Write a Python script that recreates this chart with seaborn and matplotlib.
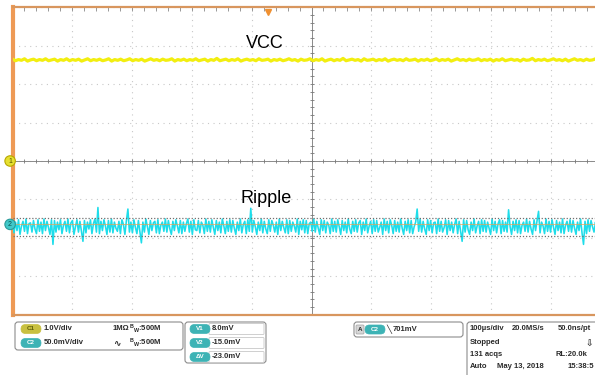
import numpy as np
import pandas as pd
import matplotlib
matplotlib.use("Agg")
import matplotlib.pyplot as plt
import seaborn as sns
from matplotlib.patches import FancyBboxPatch
from matplotlib.transforms import IdentityTransform

# --- scope settings ---
CH1_SCALE = 1.0      # V/div
CH2_SCALE = 50.0     # mV/div
CH1_OFFSET = 0.0     # div
CH2_OFFSET = -1.65   # div
TIME_SPAN_US = 1000  # 10 div x 100 us/div
TRIGGER_POS_US = 427
CURSOR_V1 = 8.0      # mV
CURSOR_V2 = -15.0    # mV

# CH1: VCC (V)
vcc = [2.65, 2.61, 2.64, 2.62, 2.66, 2.60, 2.63, 2.65, 2.61, 2.64, 2.62, 2.66, 2.61, 2.63, 2.65, 2.60, 2.64, 2.62, 2.66, 2.61,
       2.64, 2.62, 2.65, 2.60, 2.63, 2.66, 2.61, 2.64, 2.62, 2.65, 2.61, 2.63, 2.66, 2.60, 2.64, 2.62, 2.65, 2.61, 2.63, 2.66,
       2.61, 2.64, 2.62, 2.65, 2.60, 2.63, 2.66, 2.62, 2.64, 2.61, 2.65, 2.62, 2.63, 2.66, 2.60, 2.64, 2.62, 2.65, 2.61, 2.64,
       2.62, 2.66, 2.61, 2.63, 2.65, 2.60, 2.64, 2.62, 2.67, 2.61, 2.63, 2.65, 2.61, 2.64, 2.62, 2.66, 2.60, 2.63, 2.65, 2.62,
       2.64, 2.61, 2.66, 2.62, 2.63, 2.65, 2.60, 2.64, 2.62, 2.65, 2.61, 2.63, 2.66, 2.62, 2.64, 2.60, 2.65, 2.62, 2.63, 2.66,
       2.61, 2.64, 2.62, 2.66, 2.60, 2.63, 2.65, 2.61, 2.64, 2.62, 2.67, 2.61, 2.63, 2.65, 2.62, 2.64, 2.60, 2.66, 2.62, 2.63,
       2.65, 2.61, 2.64, 2.62, 2.66, 2.60, 2.63, 2.65, 2.62, 2.64, 2.61, 2.66, 2.62, 2.63, 2.65, 2.60, 2.64, 2.62, 2.65, 2.61,
       2.63, 2.66, 2.61, 2.64, 2.62, 2.65, 2.60, 2.63, 2.66, 2.62, 2.64, 2.61, 2.65, 2.62, 2.63, 2.66, 2.61, 2.64, 2.62, 2.65,
       2.60, 2.64, 2.62, 2.66, 2.61, 2.63, 2.65, 2.62, 2.64, 2.60, 2.65, 2.62, 2.63, 2.67, 2.61, 2.64, 2.62, 2.65, 2.61, 2.63,
       2.66, 2.62, 2.64, 2.61, 2.65, 2.60, 2.63, 2.66, 2.62, 2.64, 2.61, 2.65, 2.62, 2.63, 2.66, 2.60, 2.64, 2.62, 2.65, 2.63]

# CH2: ripple (mV)
ripple = [5, -11, 3, -8, 6, -13, -2, 4, -9, 7, -12, 1, 2, -10, 5, -6, -12, 6, -9, 3,
          -12, 7, -8, 4, -4, -13, 6, -26, 5, -10, 3, -7, 6, -12, -1, 4, -9, 7, -11, 2,
          5, -13, -3, 6, -10, 4, -9, -22, 5, -11, 3, -6, 6, -12, 1, 7, -10, 22, -12, 4,
          -8, 6, -2, -13, 5, -10, 7, -11, 3, -5, -9, 4, -12, 6, 0, -13, 5, 20, -10, 3,
          -11, 6, -4, -12, 5, -9, -24, 3, -10, 7, -3, -13, 5, -8, 2, 4, -11, 6, -12, -1,
          3, -9, 7, -10, 5, -6, -13, 4, -8, 6, -2, -11, 5, -12, 3, -9, 1, 7, -10, 4,
          -13, 6, -7, -8, 5, -11, 3, -1, -12, 7, -9, 4, -10, 6, -4, -13, 5, -8, 3, -11,
          7, -2, -12, 4, -9, 6, -10, 5, -5, -13, 3, -8, 7, -11, 0, 4, -12, 6, -9, 21,
          -10, 5, -3, -13, 3, -8, 7, -11, 4, -6, -12, 6, -9, 5, -1, -10, 3, -13, 7, -8,
          4, -4, -11, 6, -12, 5, -9, 3, -2, -10, 7, -13, 4, -7, 6, -11, 5, -12, 1, 3,
          -9, 7, -10, 4, -5, -13, 6, -8, 5, -11, 3, -1, -12, 7, -9, 4, -10, 6, -3, -13,
          5, -8, 3, -11, 7, -6, -12, 4, -9, 6, -10, 2, 5, -13, 3, -8, 7, -11, -2, 4,
          -12, 6, -9, 5, -10, -4, 3, -13, 7, -8, 4, -11, 6, -1, -12, 5, -9, 3, -10, 7,
          -5, -13, 4, -8, 6, -11, 5, -12, -3, 3, 20, -9, 7, -10, 4, -6, -13, 6, -8, 5,
          -11, 2, 3, -12, 7, -9, 4, -10, -4, 6, -13, 5, -8, 3, -11, 0, 7, -12, 4, -9,
          -22, 6, -10, 5, -7, -13, 3, -8, 7, -11, -2, 4, -12, 6, -9, 5, -10, 3, -5, -13,
          7, -8, 4, -11, 1, 6, -12, 5, -9, 3, -10, 19, -3, -13, 4, -8, 6, -11, 5, -12,
          -1, 3, -9, 7, -10, 4, -6, -13, 6, -8, 5, 17, -11, 3, -2, -12, 7, -9, 4, -10,
          6, -4, -13, 5, -8, 3, -11, 7, -12, -1, 4, -9, 6, -10, 5, -5, -13, 3, -8, 7,
          -11, -26, 4, -12, 6, -9, 5, -3, -10, 3, -13, 7, -8, 4, -6, -11, 6, -12, 5, -9]

W, H = 595, 375
YELLOW = "#F2EE10"
CYAN = "#1EDDEA"
ORANGE = "#EE9A55"
TEAL = "#3DB3B5"


def main():
    df1 = pd.DataFrame({"t": np.linspace(0, TIME_SPAN_US, len(vcc)),
                        "div": np.array(vcc) / CH1_SCALE + CH1_OFFSET})
    df2 = pd.DataFrame({"t": np.linspace(0, TIME_SPAN_US, len(ripple)),
                        "div": np.array(ripple) / CH2_SCALE + CH2_OFFSET})

    sns.set_style("white")
    plt.rcParams["font.family"] = ["Liberation Sans", "DejaVu Sans"]
    fig = plt.figure(figsize=(W / 100, H / 100), dpi=100)
    ax = fig.add_axes([12.5 / W, 1 - 314.7 / H, 598 / W, (314.7 - 7.3) / H])

    # graticule
    ax.set_xlim(0, TIME_SPAN_US)
    ax.set_ylim(-4, 4)
    ax.set_xticks(np.arange(0, TIME_SPAN_US + 1, 100))
    ax.set_yticks(np.arange(-4, 5, 1))
    ax.set_xticks(np.arange(0, TIME_SPAN_US + 1, 20), minor=True)
    ax.set_yticks(np.arange(-4, 4.01, 0.2), minor=True)
    ax.grid(True, which="major", ls=(0, (1, 4)), color="#C8C8C8", lw=0.8)
    ax.tick_params(which="both", direction="in", top=True, right=True, length=3,
                   width=0.6, color="#888888", labelbottom=False, labelleft=False)
    ax.axhline(0, color="#8A8A8A", lw=0.7, zorder=1)
    ax.axvline(TIME_SPAN_US / 2, color="#8A8A8A", lw=0.7, zorder=1)
    minor_t = np.arange(0, TIME_SPAN_US + 1, 20)
    minor_v = np.arange(-4, 4.01, 0.2)
    ax.plot(minor_t, np.zeros_like(minor_t), ls="", marker="|", ms=3, mew=0.6, color="#787878")
    ax.plot(np.full_like(minor_v, TIME_SPAN_US / 2), minor_v, ls="", marker="_", ms=3, mew=0.6, color="#787878")

    for side in ["top", "bottom"]:
        ax.spines[side].set_color("#D8965E")
        ax.spines[side].set_linewidth(1.6)
    ax.spines["left"].set_color(ORANGE)
    ax.spines["left"].set_linewidth(3)
    ax.spines["right"].set_visible(False)

    # traces
    sns.lineplot(data=df1, x="t", y="div", color=YELLOW, lw=2.3, sort=False, estimator=None, ax=ax, zorder=3)
    sns.lineplot(data=df2, x="t", y="div", color=CYAN, lw=1.15, sort=False, estimator=None, ax=ax, zorder=3)
    ax.axhline(CH2_OFFSET, color="#E8A050", lw=0.6, alpha=0.8, zorder=4)
    for v in (CURSOR_V1, CURSOR_V2):
        ax.axhline(v / CH2_SCALE + CH2_OFFSET, color="#707070", lw=0.9, ls=(0, (1, 1.5)), zorder=4)
    ax.set_xlabel("")
    ax.set_ylabel("")

    # channel markers and trigger position
    yt = ax.get_yaxis_transform()
    ax.text(-0.004, CH1_OFFSET, "1", transform=yt, ha="center", va="center", fontsize=5, color="#555500",
            bbox=dict(boxstyle="circle,pad=0.25", fc="#E6E030", ec="#B8A800", lw=0.8), clip_on=False, zorder=6)
    ax.text(-0.004, CH2_OFFSET, "2", transform=yt, ha="center", va="center", fontsize=5, color="#0A5050",
            bbox=dict(boxstyle="circle,pad=0.25", fc="#40C8C8", ec="#2A9A9A", lw=0.8), clip_on=False, zorder=6)
    ax.plot([TRIGGER_POS_US], [3.88], marker="v", ms=5, color="#F09030", clip_on=False, zorder=6)

    ax.text(0.422, 3.07, "VCC", transform=yt, fontsize=13, ha="center", va="center", color="black")
    ax.text(0.424, CH2_OFFSET + 0.68, "Ripple", transform=yt, fontsize=13, ha="center", va="center",
            color="black")

    # --- status panel below the screen ---
    pix = IdentityTransform()

    def rbox(x0, y0, x1, y1, fc="white", ec="#8C8C8C", r=3, lw=0.8):
        p = FancyBboxPatch((x0, H - y1), x1 - x0, y1 - y0,
                           boxstyle=f"round,pad=0,rounding_size={r}",
                           fc=fc, ec=ec, lw=lw, transform=pix)
        fig.patches.append(p)

    def ftext(x, y, s, size=5.5, color="#2A2A2A", ha="left", **kw):
        fig.text(x / W, 1 - y / H, s, fontsize=size, fontweight="bold", color=color,
                 ha=ha, va="center", **kw)

    def pill(cx, cy, label, fc, tc="white"):
        rbox(cx - 10, cy - 4.5, cx + 10, cy + 4.5, fc=fc, ec=fc, r=4.5, lw=0.5)
        ftext(cx, cy, label, size=4.5, color=tc, ha="center")

    rbox(15, 322, 183, 350)
    pill(31, 329, "C1", "#C8C040", "#60600A")
    pill(31, 343, "C2", TEAL)
    ftext(44, 329, "1.0V/div")
    ftext(44, 343, "50.0mV/div")
    ftext(113, 329, "1MΩ")
    ftext(113, 343, "∿", size=6.5)
    ftext(129, 329, r"$\mathregular{^B{}_W}$:500M")
    ftext(129, 343, r"$\mathregular{^B{}_W}$:500M")

    rbox(185, 322, 266, 363)
    for cy, lab, val in [(329, "V1", f"{CURSOR_V1:.1f}mV"),
                         (343, "V2", f"{CURSOR_V2:.1f}mV"),
                         (357, "ΔV", f"{CURSOR_V2 - CURSOR_V1:.1f}mV")]:
        rbox(209, cy - 5.5, 264, cy + 5.5, fc="white", ec="#C8C8C8", r=1, lw=0.6)
        pill(200, cy, lab, TEAL)
        ftext(212, cy, val)

    rbox(354, 322, 463, 337)
    rbox(356, 325, 364, 334, fc="#D6D6D6", ec="#A0A0A0", r=1, lw=0.5)
    ftext(360, 329.5, "A", size=4.5, ha="center")
    pill(375, 329.5, "C2", TEAL)
    ftext(386, 329.5, "╲", size=6)
    ftext(393, 329.5, "701mV")

    rbox(467, 322, 640, 390)
    ftext(470, 329, "100µs/div")
    ftext(512, 329, "20.0MS/s")
    ftext(558, 329, "50.0ns/pt")
    ftext(470, 343, "Stopped")
    ftext(586, 343, "⇩", size=6.5, color="#303030")
    ftext(470, 355, "131 acqs")
    ftext(555, 355, "RL:20.0k")
    ftext(470, 366, "Auto")
    ftext(497, 366, "May 13, 2018")
    ftext(568, 366, "15:38:5")

    fig.savefig("out.png", dpi=100)


if __name__ == "__main__":
    main()
